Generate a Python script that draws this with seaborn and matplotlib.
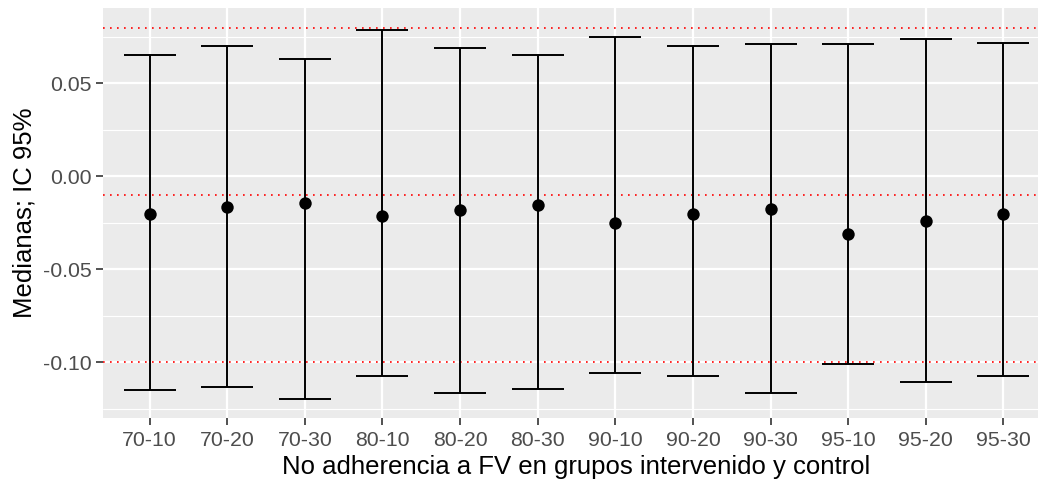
import numpy as np
import pandas as pd
import matplotlib
matplotlib.use("Agg")
import matplotlib.pyplot as plt
from matplotlib.ticker import FixedLocator
import seaborn as sns

# valores
grupos = ["70-10", "70-20", "70-30", "80-10", "80-20", "80-30",
          "90-10", "90-20", "90-30", "95-10", "95-20", "95-30"]
mediana = [-0.0204, -0.0166, -0.0145, -0.0213, -0.0184, -0.0156,
           -0.0250, -0.0204, -0.0174, -0.0309, -0.0241, -0.0204]
ic_inf = [-0.1152, -0.1133, -0.1199, -0.1074, -0.1163, -0.1142,
          -0.1056, -0.1074, -0.1163, -0.1008, -0.1104, -0.1076]
ic_sup = [0.0650, 0.0698, 0.0632, 0.0788, 0.0689, 0.0652,
          0.0747, 0.0698, 0.0711, 0.0711, 0.0738, 0.0718]
lineas_ref = [0.08, -0.01, -0.10]

df = pd.DataFrame({"grupo": grupos, "mediana": mediana,
                   "inf": ic_inf, "sup": ic_sup})

sns.set_theme(style="darkgrid", rc={
    "axes.facecolor": "#EBEBEB",
    "grid.color": "white",
    "axes.edgecolor": "#EBEBEB",
})
plt.rcParams["font.family"] = ["Liberation Sans", "DejaVu Sans"]

fig = plt.figure(figsize=(10.38, 4.88), dpi=100)
ax = fig.add_axes([103 / 1038, 70 / 488, 947 / 1038, 410 / 488])

# lineas de referencia
for y in lineas_ref:
    ax.axhline(y, color="red", linestyle=(0, (1, 3.2)), linewidth=1.2, zorder=2)

x = np.arange(len(df))
ax.errorbar(x, df["mediana"],
            yerr=[df["mediana"] - df["inf"], df["sup"] - df["mediana"]],
            fmt="none", ecolor="black", elinewidth=1.4, capsize=19,
            capthick=1.4, zorder=3)
sns.scatterplot(data=df, x="grupo", y="mediana", color="black", s=80,
                edgecolor="black", linewidth=0, ax=ax, zorder=4)

ax.set_xlim(-0.6, len(df) - 0.4)
ax.set_ylim(-0.130, 0.0905)
ax.yaxis.set_major_locator(FixedLocator([-0.10, -0.05, 0.0, 0.05]))
ax.yaxis.set_minor_locator(FixedLocator([-0.125, -0.075, -0.025, 0.025, 0.075]))
ax.set_yticklabels(["-0.10", "-0.05", "0.00", "0.05"])
ax.grid(which="major", color="white", linewidth=1.6)
ax.grid(which="minor", axis="y", color="white", linewidth=0.8)

ax.tick_params(axis="both", which="major", length=5, width=1.2,
               color="#333333", labelcolor="#4D4D4D", labelsize=15.3, pad=3)
ax.tick_params(axis="x", which="major", pad=4)
ax.tick_params(axis="both", which="minor", length=0)
ax.tick_params(axis="both", which="both", bottom=True, left=True)

ax.set_xlabel("No adherencia a FV en grupos intervenido y control",
              fontsize=18.5, color="black", labelpad=4)
ax.set_ylabel("Medianas; IC 95%", fontsize=18.5, color="black", labelpad=5)
for s in ax.spines.values():
    s.set_visible(False)

fig.savefig("out.png", dpi=100)
